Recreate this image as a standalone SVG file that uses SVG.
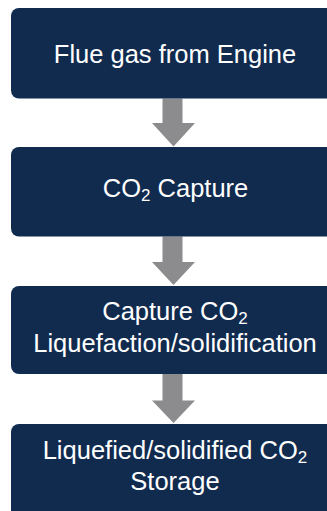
<svg xmlns="http://www.w3.org/2000/svg" width="327" height="511" viewBox="0 0 327 511">
<style>
.box{fill:#112b4f}
.t{font-family:"Liberation Sans",Arial,sans-serif;font-size:25.5px;fill:#ffffff;text-anchor:middle}
.sub{font-size:17px}
.arr{fill:#8c8c8e}
</style>
<rect width="327" height="511" fill="#ffffff"/>
<g id="connectors">
<path class="arr" d="M162.5,98.5 H182.5 V123 H195 L173.5,146.5 L152,123 H162.5 Z"/>
<path class="arr" d="M162.5,236.5 H182.5 V262 H195 L173.5,285 L152,262 H162.5 Z"/>
<path class="arr" d="M162.5,374 H182.5 V400.5 H195 L173.5,423 L152,400.5 H162.5 Z"/>
</g>
<g id="node1">
<rect class="box" x="11" y="8" width="330" height="90.5" rx="8"/>
<text class="t" x="175" y="62.5">Flue gas from Engine</text>
</g>
<g id="node2">
<rect class="box" x="11" y="147" width="330" height="89.5" rx="8"/>
<text class="t" x="175.5" y="196.5">CO<tspan class="sub" dy="4">2</tspan><tspan dy="-4"> Capture</tspan></text>
</g>
<g id="node3">
<rect class="box" x="11" y="286" width="330" height="88" rx="8"/>
<text class="t" x="175" y="320">Capture CO<tspan class="sub" dy="4">2</tspan></text>
<text class="t" x="175" y="352">Liquefaction/solidification</text>
</g>
<g id="node4">
<rect class="box" x="11" y="424" width="330" height="95" rx="8"/>
<text class="t" x="175" y="459">Liquefied/solidified CO<tspan class="sub" dy="4">2</tspan></text>
<text class="t" x="175" y="490">Storage</text>
</g>
</svg>
